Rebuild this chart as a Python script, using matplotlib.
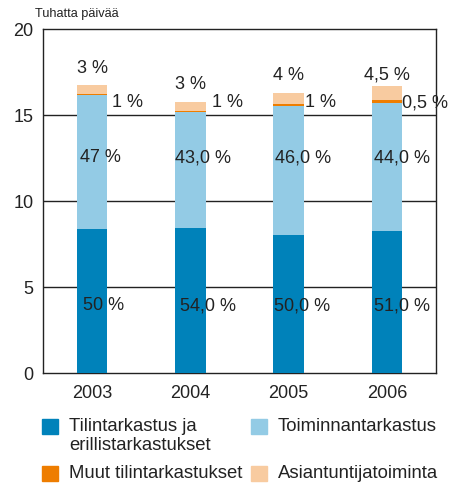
import matplotlib
matplotlib.use("Agg")
import matplotlib.pyplot as plt
from matplotlib.patches import Rectangle
import numpy as np

plt.rcParams['font.family'] = ['Liberation Sans', 'DejaVu Sans']

years = ["2003", "2004", "2005", "2006"]
series_names = ["Tilintarkastus ja\nerillistarkastukset", "Toiminnantarkastus",
                "Muut tilintarkastukset", "Asiantuntijatoiminta"]
tilintarkastus = [8.37, 8.43, 8.02, 8.26]
toiminnantarkastus = [7.77, 6.74, 7.50, 7.44]
muut = [0.07, 0.08, 0.12, 0.19]
asiantuntija = [0.54, 0.51, 0.64, 0.80]

lbl_tilin = ["50 %", "54,0 %", "50,0 %", "51,0 %"]
lbl_toim = ["47 %", "43,0 %", "46,0 %", "44,0 %"]
lbl_muut = ["1 %", "1 %", "1 %", "0,5 %"]
lbl_asi = ["3 %", "3 %", "4 %", "4,5 %"]

colors = ["#0082BA", "#93CBE5", "#EE7D00", "#F8CBA0"]

fig = plt.figure(figsize=(4.49, 4.83), dpi=100)
ax = fig.add_axes([43/449, 1-373/483, (436-43)/449, (373-29)/483])

x = np.arange(len(years))
w = 0.31
data = [tilintarkastus, toiminnantarkastus, muut, asiantuntija]
bottom = np.zeros(len(years))
for vals, c in zip(data, colors):
    ax.bar(x, vals, w, bottom=bottom, color=c, zorder=3)
    bottom = bottom + np.array(vals)

ax.set_xlim(-0.5, 3.5)
ax.set_ylim(0, 20)
ax.set_yticks([0, 5, 10, 15, 20])
ax.set_xticks(x)
ax.set_xticklabels(years)
ax.tick_params(length=0, labelsize=13, colors="#222222")
ax.tick_params(axis='x', pad=9)
ax.tick_params(axis='y', pad=7)
for s in ax.spines.values():
    s.set_color("#222222")
    s.set_linewidth(1)
for yv in [5, 10, 15]:
    ax.axhline(yv, color="#222222", lw=1, zorder=1)

fs = 13
tc = "#222222"
top_y = [17.7, 16.75, 17.3, 17.3]
bot_off = [0.06, 0.05, 0.01, 0.02]
mid_off = [0.03, 0.0, 0.02, 0.02]
muut_off = [0.05, 0.07, 0.01, 0.0]
for i in range(len(years)):
    ax.text(x[i] - w/2 + bot_off[i], 3.9, lbl_tilin[i], fontsize=fs, color=tc, va='center', ha='left', zorder=4)
    ax.text(x[i] - w/2 + mid_off[i], 12.5, lbl_toim[i], fontsize=fs, color=tc, va='center', ha='left', zorder=4)
    ax.text(x[i] + w/2 + muut_off[i], 15.7, lbl_muut[i], fontsize=fs, color=tc, va='center', ha='left', zorder=4)
    ax.text(x[i] + 0.0, top_y[i], lbl_asi[i], fontsize=fs, color=tc, va='center', ha='center', zorder=4)

fig.text(35/449, 1-14/483, "Tuhatta päivää", fontsize=9.2, color=tc, va='center', ha='left')

# legend (manual layout)
leg_items = [(42, 419, 0), (251, 419, 1), (42, 466, 2), (251, 466, 3)]
for lx, ly, k in leg_items:
    fig.add_artist(Rectangle((lx/449, 1-(ly+15)/483), 16/449, 15/483,
                             transform=fig.transFigure, color=colors[k]))
    fig.text((lx+27)/449, 1-(ly-1)/483, series_names[k], fontsize=13.3, color=tc,
             va='top', ha='left', linespacing=1.12)

fig.savefig("out.png", dpi=100)
